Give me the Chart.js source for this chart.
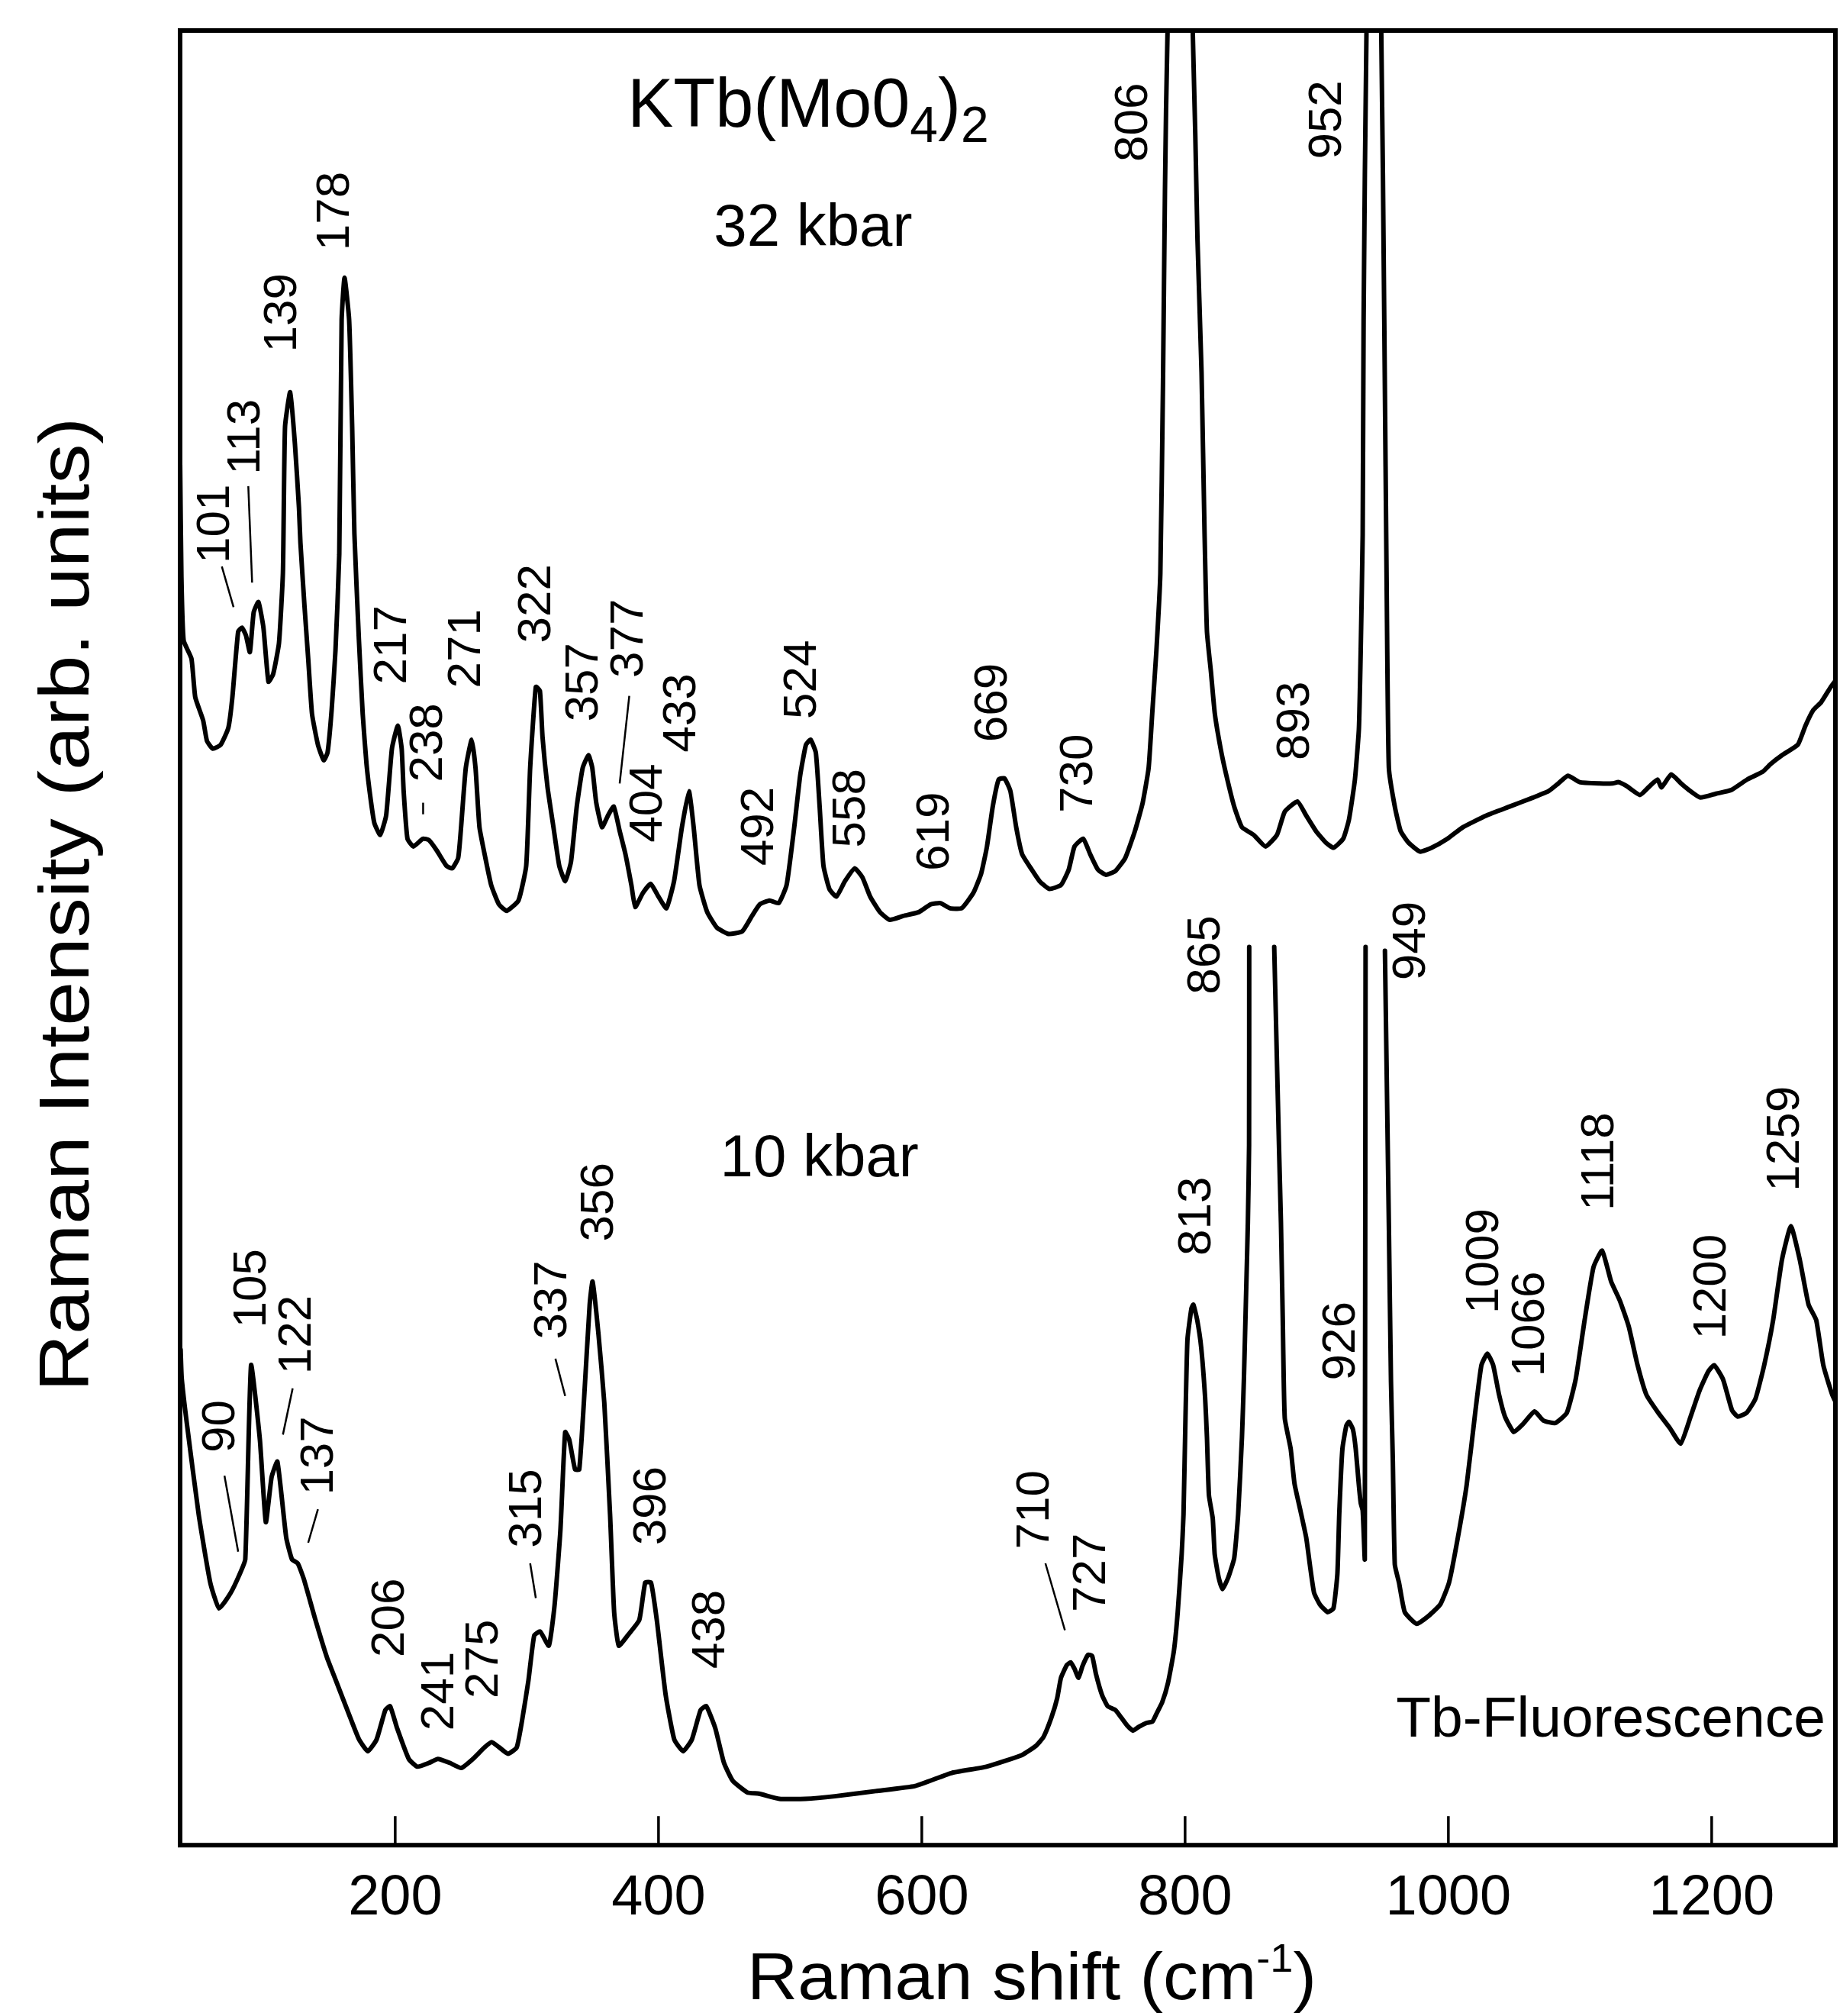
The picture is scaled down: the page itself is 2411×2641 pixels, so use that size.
<!DOCTYPE html>
<html>
<head>
<meta charset="utf-8">
<script src="https://cdn.jsdelivr.net/npm/chart.js@4.4.1/dist/chart.umd.min.js"></script>
<style>
html,body{margin:0;padding:0;background:#fff;}
#wrap{width:2411px;height:2641px;position:relative;}
canvas{display:block;}
</style>
</head>
<body>
<div id="wrap"><canvas id="c" width="2411" height="2641"></canvas></div>
<script>
const FONT = '"Liberation Sans", Arial, Helvetica, sans-serif';

// x-axis tick values (Raman shift, cm^-1)
const xTickValues = [200, 400, 600, 800, 1000, 1200];

// 32 kbar spectrum: Raman shift (axis units) and intensity (arb. units)
const upperShift = [36.6,37.6,39.3,45.2,48.1,54.1,57.0,61.4,67.4,73.2,76.3,80.7,83.6,86.6,89.6,92.5,96.1,99.9,103.7,107.3,111.7,114.7,116.3,120.2,123.8,126.9,128.0,131.0,133.9,136.8,141.3,145.7,148.6,151.7,154.6,157.5,159.3,161.5,165.0,167.3,169.0,172.4,175.3,178.2,181.3,184.2,188.6,193.1,197.5,202.0,204.9,206.4,209.3,213.8,221.1,225.6,231.5,238.9,243.3,247.8,249.8,253.6,258.1,261.0,264.0,268.5,272.9,278.8,284.7,293.6,299.5,302.5,306.8,309.9,311.9,315.7,320.2,324.6,329.1,333.5,337.9,342.4,346.8,349.7,352.7,357.1,361.6,366.0,370.5,374.9,379.4,382.3,388.2,394.1,400.0,406.0,411.8,417.8,423.1,426.7,431.1,437.0,444.3,453.2,463.6,471.0,476.9,484.3,491.3,497.3,503.1,507.6,512.0,515.5,519.5,522.4,525.3,529.8,535.1,541.6,549.0,554.9,560.8,568.2,575.6,585.9,597.8,606.7,614.1,621.4,630.3,639.2,645.1,649.5,653.9,658.4,662.8,667.3,671.7,676.2,683.5,689.5,696.9,705.7,711.6,716.0,722.6,727.9,733.8,739.8,747.1,754.5,761.9,767.8,772.3,775.2,778.2,781.2,783.2,784.7,786.7,795.4,805.8,809.4,812.5,814.8,816.6,819.6,822.6,827.0,831.4,837.3,843.2,852.1,861.0,869.8,875.7,885.3,892.0,899.4,906.9,912.7,920.1,924.5,929.0,932.0,933.4,934.9,935.6,937.8,943.4,949.0,951.3,953.3,954.8,959.3,963.7,969.7,978.5,987.3,999.3,1011.1,1028.7,1046.5,1064.3,1076.1,1083.5,1090.8,1099.7,1114.6,1124.8,1129.3,1135.3,1145.5,1153.0,1158.9,1161.9,1169.3,1176.7,1182.6,1191.4,1203.3,1215.1,1226.9,1238.7,1244.7,1253.5,1265.4,1271.3,1277.2,1283.1,1290.5,1294.9];
const upperIntensity = [107.5,98.5,93.6,92.2,89.2,87.4,85.8,85.2,85.5,86.8,89.2,94.3,94.6,94.0,92.7,95.8,96.6,94.6,90.4,91.0,93.4,98.9,110.2,112.9,108.9,103.9,101.2,96.4,92.2,87.9,85.5,84.3,84.9,88.2,92.8,100.3,118.5,121.8,118.5,110.2,101.9,93.7,87.9,84.0,81.3,79.4,78.5,80.0,85.2,87.0,85.2,81.9,78.2,77.6,78.2,78.1,77.3,76.1,75.9,76.7,78.8,83.7,85.9,83.7,79.1,76.7,74.6,73.1,72.6,73.4,76.1,83.7,90.0,89.7,86.1,82.2,79.1,76.1,74.9,76.4,80.7,83.7,84.7,83.7,81.0,79.1,80.0,80.7,78.8,77.0,74.6,72.9,74.0,74.7,73.7,72.8,74.9,79.1,81.9,79.1,74.6,72.5,71.3,70.8,71.0,72.2,73.1,73.4,73.2,74.6,79.1,83.1,85.5,85.9,84.9,80.7,76.1,74.3,73.7,74.9,75.9,75.2,73.7,72.5,71.9,72.2,72.5,73.1,73.2,72.8,72.8,74.0,75.5,77.6,80.7,82.8,82.9,81.9,79.1,77.0,75.8,74.9,74.3,74.6,75.8,77.6,78.2,77.0,75.8,75.4,75.7,76.7,78.8,81.0,83.7,88.2,92.8,98.8,113.5,128.5,141.1,158.5,141.0,124.8,114.4,101.9,94.3,91.2,87.9,85.2,83.1,80.7,79.1,78.5,77.6,78.5,80.3,81.1,80.0,78.8,77.9,77.5,78.2,79.7,82.8,86.7,92.8,101.8,118.5,141.0,158.5,141.0,118.5,95.8,83.7,80.7,78.8,77.9,77.2,77.5,78.2,79.1,80.0,80.7,81.4,81.9,82.5,83.1,82.6,82.5,82.5,82.6,82.3,81.6,82.3,82.8,82.2,83.2,82.5,82.0,81.4,81.7,82.0,82.8,83.4,84.0,84.7,85.5,87.0,88.2,88.8,90.0,90.6];

// 10 kbar spectrum (null = where the two strongest bands are cut off)
const lowerShift = [37.0,37.8,41.8,50.7,59.5,66.2,75.0,81.6,86.1,90.5,97.2,101.7,106.1,110.5,117.2,121.6,126.0,130.5,139.4,148.1,154.9,165.9,172.6,179.2,185.8,192.5,196.1,201.4,210.3,216.9,225.8,232.4,241.3,250.2,259.0,267.9,273.3,279.0,285.7,292.3,296.7,301.2,305.6,310.1,316.7,321.1,325.5,329.1,332.2,336.6,339.8,343.3,347.7,349.9,354.4,358.8,363.2,366.3,369.8,376.6,385.4,389.9,394.3,398.7,405.4,412.0,418.7,425.3,432.0,436.3,443.1,449.7,456.4,467.4,476.3,491.8,511.7,533.9,565.0,595.1,622.3,649.1,676.0,686.5,692.4,698.4,702.8,705.7,710.2,713.1,716.0,719.1,722.0,726.4,729.4,732.3,736.8,741.2,747.1,751.6,756.0,760.5,764.9,770.8,775.2,778.2,782.6,787.0,791.5,794.4,797.4,798.8,800.3,801.8,804.8,806.3,809.2,812.2,815.2,816.6,818.1,821.0,822.5,825.5,828.4,832.8,837.3,840.3,843.2,844.7,846.2,847.7,848.6,848.7,858.0,867.7,871.3,872.8,874.2,875.7,880.2,883.1,887.6,892.0,894.9,898.0,902.4,908.3,912.7,915.7,917.1,919.5,922.5,924.5,927.5,929.6,931.9,933.4,934.9,936.3,936.5,936.8,937.1,944.0,951.8,954.8,956.4,957.8,959.3,962.5,966.9,975.9,984.8,993.8,1000.5,1007.2,1013.9,1020.6,1025.1,1029.6,1034.0,1038.5,1043.0,1049.7,1056.5,1065.4,1072.1,1081.1,1090.0,1096.7,1103.5,1110.2,1116.8,1123.6,1130.3,1137.0,1143.7,1150.4,1159.4,1168.3,1176.4,1184.0,1190.7,1197.4,1201.9,1208.6,1215.4,1219.8,1226.6,1233.3,1239.9,1246.7,1253.4,1260.2,1266.9,1273.6,1279.4,1284.8,1291.6,1297.3];
const lowerIntensity = [38.5,36.3,32.7,25.7,20.4,18.4,19.6,21.0,22.2,37.3,31.5,25.1,28.6,29.8,23.9,22.2,21.9,20.7,17.5,14.6,12.8,9.9,8.2,7.3,8.2,10.5,10.8,9.1,6.7,6.1,6.4,6.7,6.4,6.0,6.7,7.6,8.0,7.6,7.1,7.6,9.9,12.8,16.3,16.6,15.5,18.7,24.5,32.1,31.5,29.2,29.2,34.4,42.0,43.8,39.7,34.4,25.7,18.1,15.5,16.3,17.5,20.4,20.4,17.5,11.7,8.2,7.3,8.2,10.5,10.8,9.1,6.4,5.0,4.1,4.0,3.6,3.6,3.8,4.2,4.6,5.6,6.1,7.0,7.7,8.4,9.9,11.4,13.0,14.0,14.2,13.7,13.0,13.9,14.8,14.7,13.3,11.7,10.8,10.5,9.9,9.3,8.9,9.2,9.5,9.6,10.2,11.1,12.6,15.1,18.1,22.6,25.7,33.2,39.3,41.7,42.0,40.8,38.7,34.8,31.7,27.2,25.4,22.6,20.8,19.9,20.8,22.3,25.7,31.7,36.3,42.3,48.4,54.4,69.8,null,69.8,54.4,48.4,40.8,33.2,30.8,28.1,26.0,23.9,21.7,19.6,18.7,18.1,18.4,21.1,25.7,30.8,32.6,32.9,32.3,30.8,28.1,26.6,26.0,22.6,22.2,43.5,69.8,null,69.5,48.1,36.0,29.9,21.8,20.4,18.1,17.2,17.8,18.7,20.4,23.9,28.0,33.8,37.3,38.2,37.3,35.0,33.3,32.1,32.7,33.7,33.0,32.8,33.6,36.2,40.8,44.9,46.2,43.8,42.3,40.3,37.3,35.0,33.6,32.4,31.2,33.3,35.3,36.8,37.3,36.2,33.8,33.3,33.6,34.7,37.3,40.8,45.5,48.1,45.5,42.0,40.8,37.3,35.0,33.8];

// Peak labels (cm^-1)
const upperPeakLabels = ['101','113','139','178','217','238','271','322','357','377','404','433','492','524','558','619','669','730','806','893','952'];
const lowerPeakLabels = ['90','105','122','137','206','241','275','315','337','356','396','438','710','727','813','865','926','949','1009','1066','1118','1200','1259'];

// Layout of the annotations (data coordinates: x = centre of rotated label, y = where label starts)
const upperLabelAt = [[64.0,99.6],[87.0,106.5],[114.8,116.0],[154.8,123.9],[198.3,90.2],[225.6,82.6],[254.4,89.9],[307.8,93.4],[343.9,87.3],[377.8,90.7],[392.7,77.9],[417.8,84.9],[477.0,76.1],[509.7,87.5],[546.9,77.5],[610.2,75.7],[654.6,85.7],[719.7,80.2],[761.1,130.8],[884.0,84.3],[908.7,131.0]];
const lowerLabelAt = [[68.0,30.5],[91.9,40.2],[125.6,36.6],[142.8,27.2],[196.6,14.6],[234.5,8.9],[267.6,11.4],[301.0,23.1],[320.2,39.3],[355.1,46.9],[395.6,23.3],[440.0,13.7],[686.5,23.0],[729.4,18.1],[809.2,45.8],[816.0,66.1],[918.7,36.1],[972.0,67.2],[1027.9,41.3],[1062.8,36.4],[1115.2,49.3],[1200.9,39.3],[1256.5,50.8]];
const leaderLines = [[68.3,99.35,77.2,96.2],[88.4,105.6,91.3,98.1],[221.2,81.0,221.2,80.1],[377.8,89.3,370.5,82.5],[70.3,28.7,80.7,22.8],[122.1,35.5,114.7,31.9],[141.3,26.1,133.9,23.5],[302.5,21.9,306.8,19.2],[321.7,37.8,329.1,34.9],[693.9,21.9,708.7,16.7]];

function toPoints(xs, ys) { return xs.map((v, i) => ({x: v, y: ys[i]})); }

function drawRun(ctx, parts) {
  // parts: [text, fontSize, yOffset]
  let x = 0;
  parts.forEach(([t, size, dy]) => {
    ctx.font = size + 'px ' + FONT;
    ctx.fillText(t, x, dy);
    x += ctx.measureText(t).width;
  });
  return x;
}
function runWidth(ctx, parts) {
  let w = 0;
  parts.forEach(([t, size]) => { ctx.font = size + 'px ' + FONT; w += ctx.measureText(t).width; });
  return w;
}

const annotations = {
  id: 'annotations',
  afterDatasetsDraw(chart) {
    const {ctx, chartArea: ca, scales: {x, y}} = chart;
    ctx.save();
    ctx.strokeStyle = '#000';
    ctx.fillStyle = '#000';
    // frame
    ctx.lineWidth = 6;
    ctx.strokeRect(ca.left, ca.top, ca.right - ca.left, ca.bottom - ca.top);
    // inward tick marks
    ctx.lineWidth = 3.5;
    xTickValues.forEach(v => {
      const px = x.getPixelForValue(v);
      ctx.beginPath(); ctx.moveTo(px, ca.bottom); ctx.lineTo(px, ca.bottom - 38); ctx.stroke();
    });
    // leader lines
    ctx.lineWidth = 2.5;
    leaderLines.forEach(([x1, y1, x2, y2]) => {
      ctx.beginPath();
      ctx.moveTo(x.getPixelForValue(x1), y.getPixelForValue(y1));
      ctx.lineTo(x.getPixelForValue(x2), y.getPixelForValue(y2));
      ctx.stroke();
    });
    // rotated peak labels
    ctx.font = '62px ' + FONT;
    ctx.textAlign = 'left';
    ctx.textBaseline = 'middle';
    const drawV = (t, pos) => {
      ctx.save();
      ctx.translate(x.getPixelForValue(pos[0]), y.getPixelForValue(pos[1]));
      ctx.rotate(-Math.PI / 2);
      ctx.fillText(t, 0, 0);
      ctx.restore();
    };
    upperPeakLabels.forEach((t, i) => drawV(t, upperLabelAt[i]));
    lowerPeakLabels.forEach((t, i) => drawV(t, lowerLabelAt[i]));

    // texts inside the plot
    ctx.textBaseline = 'alphabetic';
    ctx.save();
    ctx.translate(x.getPixelForValue(376.4), y.getPixelForValue(133.55));
    drawRun(ctx, [['KTb(Mo0', 90, 0], ['4', 66, 20], [')', 90, 0], ['2', 66, 20]]);
    ctx.restore();
    ctx.font = '78px ' + FONT;
    ctx.fillText('32 kbar', x.getPixelForValue(442.0), y.getPixelForValue(124.3));
    ctx.fillText('10 kbar', x.getPixelForValue(446.8), y.getPixelForValue(51.95));
    ctx.font = '75px ' + FONT;
    ctx.fillText('Tb-Fluorescence', x.getPixelForValue(960.2), y.getPixelForValue(8.45));

    // axis titles
    const xt = [['Raman shift (cm', 88, 0], ['-1', 52, -36], [')', 88, 0]];
    const xw = runWidth(ctx, xt);
    ctx.save();
    ctx.translate(979, 2619);
    ctx.scale(746 / xw, 1);
    drawRun(ctx, xt);
    ctx.restore();

    const yt = 'Raman Intensity (arb. units)';
    ctx.save();
    ctx.font = '92px ' + FONT;
    const yw = ctx.measureText(yt).width;
    ctx.translate(116, 1185);
    ctx.rotate(-Math.PI / 2);
    ctx.scale(1276 / yw, 1);
    ctx.textAlign = 'center';
    ctx.fillText(yt, 0, 0);
    ctx.restore();

    ctx.restore();
  }
};

Chart.defaults.font.family = FONT;
Chart.defaults.color = '#000';

const lineStyle = {borderColor: '#000', borderWidth: 6, pointRadius: 0, tension: 0.15, fill: false, borderJoinStyle: 'round', borderCapStyle: 'round', spanGaps: false};

new Chart(document.getElementById('c'), {
  type: 'line',
  data: {
    datasets: [
      Object.assign({label: '32 kbar', data: toPoints(upperShift, upperIntensity)}, lineStyle),
      Object.assign({label: '10 kbar', data: toPoints(lowerShift, lowerIntensity)}, lineStyle)
    ]
  },
  options: {
    responsive: false,
    animation: false,
    devicePixelRatio: 1,
    layout: {padding: {left: 236, right: 6, top: 40, bottom: 83}},
    plugins: {legend: {display: false}, tooltip: {enabled: false}},
    scales: {
      x: {
        type: 'linear', min: 36.6, max: 1294,
        grid: {display: false, drawTicks: false},
        border: {display: false},
        afterBuildTicks: (s) => { s.ticks = xTickValues.map(v => ({value: v})); },
        ticks: {font: {size: 74, family: FONT}, color: '#000', padding: 26, maxRotation: 0, autoSkip: false, callback: (v) => String(v)}
      },
      y: {type: 'linear', min: 0, max: 141, display: false}
    }
  },
  plugins: [annotations]
});
</script>
</body>
</html>
